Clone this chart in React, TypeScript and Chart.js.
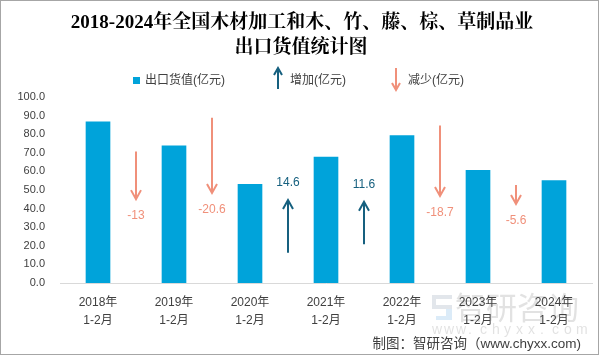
import React, { useEffect, useRef } from "react";
import { Chart, registerables } from "chart.js";

Chart.register(...registerables);

const titleLines = ["2018-2024年全国木材加工和木、竹、藤、棕、草制品业", "出口货值统计图"];
const categories = [
  ["2018年", "1-2月"],
  ["2019年", "1-2月"],
  ["2020年", "1-2月"],
  ["2021年", "1-2月"],
  ["2022年", "1-2月"],
  ["2023年", "1-2月"],
  ["2024年", "1-2月"],
];
const exportValues = [86.7, 73.7, 53.1, 67.7, 79.3, 60.6, 55.0];
const changes = [-13, -20.6, 14.6, 11.6, -18.7, -5.6];
const changeLabels = ["-13", "-20.6", "14.6", "11.6", "-18.7", "-5.6"];
const arrowBase = [70.7, 88.8, 16.2, 20.9, 84.7, 52.7];
const arrowTip = [45.1, 48.4, 44.6, 43.7, 46.8, 42.5];
const yTicks = [0, 10, 20, 30, 40, 50, 60, 70, 80, 90, 100];
const legendLabels = ["出口货值(亿元)", "增加(亿元)", "减少(亿元)"];
const creditText = "制图：智研咨询（www.chyxx.com)";
const watermarkName = "智研咨询";
const watermarkUrl = "www.chyxx.com";

const BAR = "#00A3DA";
const UP = "#16607F";
const DOWN = "#F0907A";
const TEXT = "#404040";
const SANS = '"Liberation Sans", "Noto Sans CJK SC", sans-serif';

function drawArrow(ctx: CanvasRenderingContext2D, x: number, y1: number, y2: number, color: string, lw = 2, head = 5, headLen = 9) {
  const dir = y2 < y1 ? 1 : -1; // 1 = pointing up
  ctx.save();
  ctx.strokeStyle = color;
  ctx.lineWidth = lw;
  ctx.lineCap = "butt";
  ctx.beginPath();
  ctx.moveTo(x, y1);
  ctx.lineTo(x, y2 + dir * 1);
  ctx.stroke();
  ctx.beginPath();
  ctx.moveTo(x - head, y2 + dir * headLen);
  ctx.lineTo(x, y2);
  ctx.lineTo(x + head, y2 + dir * headLen);
  ctx.stroke();
  ctx.restore();
}

const decorPlugin = {
  id: "decor",
  beforeDraw(chart: any) {
    const ctx: CanvasRenderingContext2D = chart.ctx;
    ctx.save();
    ctx.fillStyle = "#ffffff";
    ctx.fillRect(0, 0, chart.width, chart.height);
    // watermark
    ctx.globalAlpha = 0.22;
    ctx.fillStyle = "#7d8da3";
    ctx.fillRect(432, 295, 20, 4);
    ctx.fillRect(432, 305, 20, 4);
    ctx.fillRect(432, 299, 4, 6);
    ctx.fillStyle = "#5aa6de";
    ctx.fillRect(446, 309, 6, 11);
    ctx.fillRect(436, 316, 10, 4);
    ctx.fillStyle = "#7a7a7a";
    ctx.font = `31px "Noto Sans CJK SC", sans-serif`;
    ctx.textAlign = "left";
    ctx.textBaseline = "middle";
    ctx.fillText(watermarkName, 455, 307);
    ctx.font = `14px ${SANS}`;
    watermarkUrl.split("").forEach((c, i) => ctx.fillText(c, 432 + i * 12, 330));
    ctx.restore();
  },
  afterDatasetsDraw(chart: any) {
    const ctx: CanvasRenderingContext2D = chart.ctx;
    const xs = chart.scales.x;
    const ys = chart.scales.y;
    changes.forEach((c, i) => {
      const x = (xs.getPixelForValue(i) + xs.getPixelForValue(i + 1)) / 2;
      const y1 = ys.getPixelForValue(arrowBase[i]);
      const y2 = ys.getPixelForValue(arrowTip[i]);
      const color = c >= 0 ? UP : DOWN;
      drawArrow(ctx, x, y1, y2, color, 2, 5, 9);
      ctx.save();
      ctx.fillStyle = color;
      ctx.font = `12px ${SANS}`;
      ctx.textAlign = "center";
      ctx.textBaseline = "middle";
      ctx.fillText(changeLabels[i], x, c >= 0 ? y2 - 17 : y2 + 17);
      ctx.restore();
    });
  },
  afterDraw(chart: any) {
    const ctx: CanvasRenderingContext2D = chart.ctx;
    ctx.save();
    // title
    ctx.fillStyle = "#000000";
    ctx.textAlign = "center";
    ctx.textBaseline = "middle";
    ctx.font = `bold 19px "Liberation Serif", "Noto Serif CJK SC", "Noto Sans CJK SC", serif`;
    ctx.fillText(titleLines[0], 302, 23);
    ctx.fillText(titleLines[1], 301, 48);
    // legend
    ctx.fillStyle = BAR;
    ctx.fillRect(133, 77, 7, 7);
    ctx.fillStyle = TEXT;
    ctx.font = `12px ${SANS}`;
    ctx.textAlign = "left";
    ctx.fillText(legendLabels[0], 145, 81);
    drawArrow(ctx, 278, 89, 68, UP, 2, 4, 7);
    ctx.fillStyle = TEXT;
    ctx.fillText(legendLabels[1], 290, 81);
    drawArrow(ctx, 396, 68, 90, DOWN, 2, 4, 7);
    ctx.fillStyle = TEXT;
    ctx.fillText(legendLabels[2], 408, 81);
    // credit
    ctx.textAlign = "right";
    ctx.font = `13.5px ${SANS}`;
    ctx.fillText(creditText, 581, 344);
    // border
    ctx.strokeStyle = "#A6A6A6";
    ctx.lineWidth = 1;
    ctx.strokeRect(0.5, 0.5, 598, 354);
    ctx.restore();
  },
};

export default function App() {
  const ref = useRef<HTMLCanvasElement>(null);
  useEffect(() => {
    document.body.style.margin = "0";
    const canvas = ref.current!;
    const chart = new Chart(canvas, {
      type: "bar",
      data: {
        labels: categories as any,
        datasets: [
          {
            label: legendLabels[0],
            data: exportValues,
            backgroundColor: BAR,
            barThickness: 24,
          },
        ],
      },
      options: {
        responsive: false,
        animation: false,
        devicePixelRatio: 1,
        layout: { padding: { top: 97, left: 0, right: 9, bottom: 0 } },
        plugins: { legend: { display: false }, title: { display: false }, tooltip: { enabled: false } },
        scales: {
          x: {
            grid: { display: false, drawTicks: false },
            border: { display: true, color: "#D9D9D9", width: 1 },
            ticks: {
              color: TEXT,
              font: { size: 12, family: SANS, lineHeight: 1.55 },
              padding: 10,
              maxRotation: 0,
              autoSkip: false,
            },
            afterFit: (s: any) => {
              s.height = 73;
            },
          },
          y: {
            min: 0,
            max: 100,
            grid: { display: false, drawTicks: false },
            border: { display: false },
            ticks: {
              color: TEXT,
              font: { size: 11, family: SANS },
              padding: 15,
              callback: (v: any) => Number(v).toFixed(1),
            },
            afterBuildTicks: (s: any) => {
              s.ticks = yTicks.map((v) => ({ value: v }));
            },
            afterFit: (s: any) => {
              s.width = 60;
            },
          },
        },
      },
      plugins: [decorPlugin],
    });
    return () => chart.destroy();
  }, []);
  return <canvas ref={ref} width={601} height={356} style={{ display: "block" }} />;
}
